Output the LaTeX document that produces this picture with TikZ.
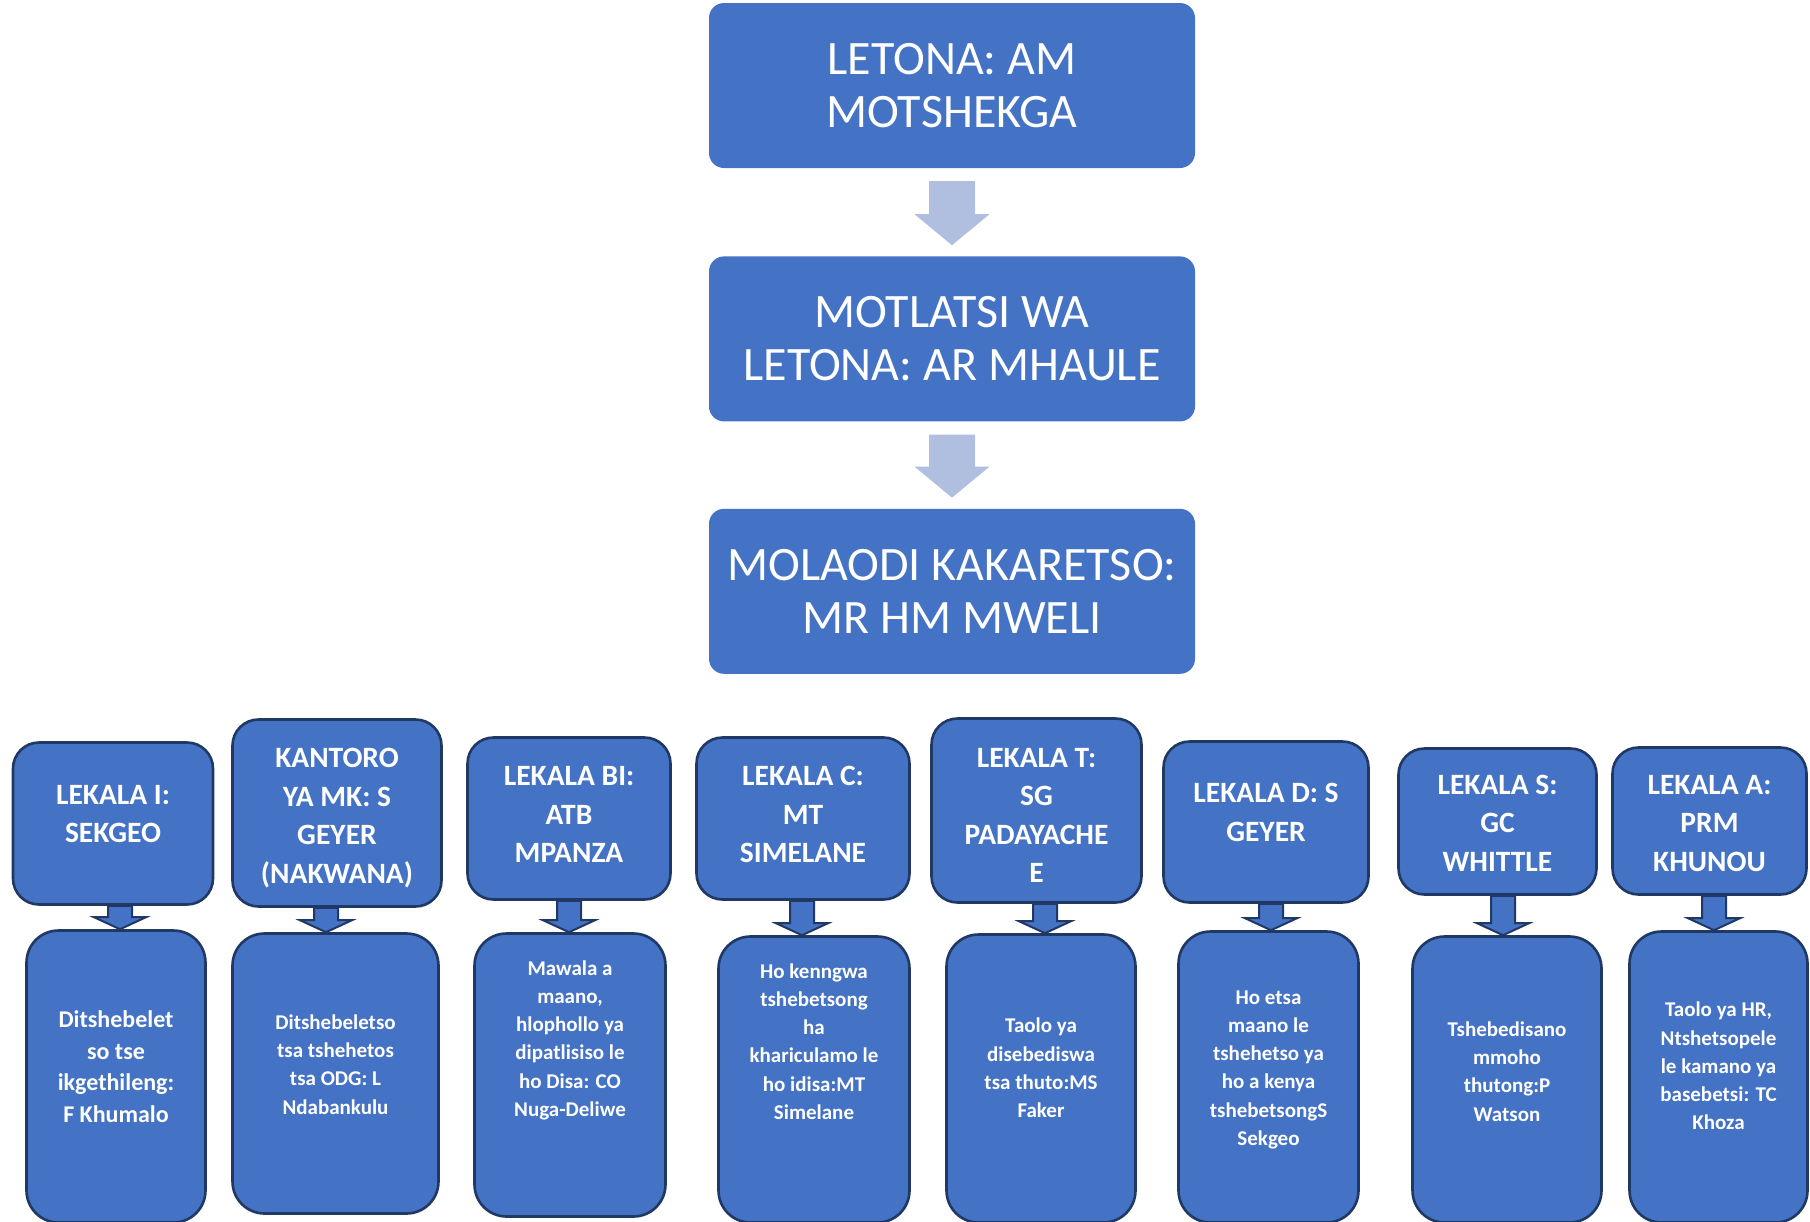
\documentclass[tikz,border=0pt]{standalone}
\usepackage{xcolor}
\usepackage{fontspec}
\setmainfont{Carlito}
\usepackage{tikz}
\usetikzlibrary{positioning, calc}

\definecolor{boxblue}{RGB}{68,114,196}
\definecolor{navy}{RGB}{32,56,100}
\definecolor{arrowgrey}{RGB}{176,190,224}

% text lifted by #1 above the middle of its box
\newcommand{\lifted}[2]{\raisebox{\dimexpr#1-.25em\relax}[0pt][0pt]{\begin{tabular}{@{}c@{}}#2\end{tabular}}}

\begin{document}
\begin{tikzpicture}[
    x=1pt, y=1pt,
    topbox/.style={
        rectangle,
        rounded corners=15pt,
        fill=boxblue,
        text=white,
        align=center,
        minimum width=486pt,
        minimum height=165pt,
        font=\fontsize{48}{53}\selectfont
    },
    headbox/.style={
        rectangle,
        rounded corners=26pt,
        draw=navy,
        line width=2.6pt,
        fill=boxblue,
        text=white,
        inner sep=0pt,
        font=\fontsize{29.5}{38.5}\selectfont\bfseries
    },
    bodybox/.style={
        rectangle,
        rounded corners=32pt,
        draw=navy,
        line width=2.6pt,
        fill=boxblue,
        text=white,
        inner sep=0pt,
        font=\fontsize{21}{28.2}\selectfont\bfseries
    },
    mainarrow/.style={
        draw=none,
        fill=arrowgrey,
        to path={let \p1=(\tikztostart.south), \p2=(\tikztotarget.north) in
            (\x1-23pt,\y1-13pt) -- (\x1+23pt,\y1-13pt) -- (\x1+23pt,\y2+42pt)
            -- (\x1+37.5pt,\y2+42pt) -- (\x1,\y2+11pt) -- (\x1-37.5pt,\y2+42pt)
            -- (\x1-23pt,\y2+42pt) -- cycle}
    },
    subarrow/.style={
        draw=navy,
        line width=2pt,
        fill=boxblue,
        to path={let \p1=($(\tikztostart.south)+(#1,0)$), \p2=(\tikztotarget.north) in
            (\x1-12pt,\y1) -- (\x1+12pt,\y1) -- (\x1+12pt,\y2+12pt)
            -- (\x1+26pt,\y2+12pt) -- (\x1,\y2) -- (\x1-26pt,\y2+12pt)
            -- (\x1-12pt,\y2+12pt) -- cycle}
    },
    subarrow/.default=0
]

\useasboundingbox (0,0) rectangle (1810,-1221);

\node[topbox] (lead) at (952,-85.5) {LETONA: AM\\MOTSHEKGA};

\node[topbox, below=88pt of lead] (deputy) {MOTLATSI WA\\LETONA: AR MHAULE};

\node[topbox, below=87pt of deputy] (dg) {MOLAODI KAKARETSO:\\MR HM MWELI};

\node[headbox, minimum width=200pt, minimum height=162pt] (hI) at (113,-823.5) {\lifted{9pt}{LEKALA I:\\SEKGEO}};
\node[headbox, minimum width=209pt, minimum height=187pt] (hMK) at (337,-813) {\lifted{-3.5pt}{KANTORO\\YA MK: S\\GEYER\\(NAKWANA)}};
\node[headbox, minimum width=203pt, minimum height=162pt] (hBI) at (569,-818.5) {\lifted{3pt}{LEKALA BI:\\ATB\\MPANZA}};
\node[headbox, minimum width=213pt, minimum height=162pt] (hC) at (803,-818.5) {\lifted{3pt}{LEKALA C:\\MT\\SIMELANE}};
\node[headbox, minimum width=210pt, minimum height=184pt] (hT) at (1036.5,-810.5) {\lifted{-5.5pt}{LEKALA T:\\SG\\PADAYACHE\\E}};
\node[headbox, minimum width=205pt, minimum height=161pt] (hD) at (1266,-822) {\lifted{9pt}{LEKALA D: S\\GEYER}};
\node[headbox, minimum width=198pt, minimum height=146pt] (hS) at (1497.5,-821.5) {\lifted{-2.5pt}{LEKALA S:\\GC\\WHITTLE}};
\node[headbox, minimum width=194pt, minimum height=147pt] (hA) at (1709.5,-821) {\lifted{-3pt}{LEKALA A:\\PRM\\KHUNOU}};

\node[bodybox, font=\fontsize{24}{31.5}\selectfont\bfseries, minimum width=179pt, minimum height=292pt] (bI) at (116,-1076.5) {\lifted{7.5pt}{Ditshebelet\\so tse\\ikgethileng:\\F Khumalo}};
\node[bodybox, minimum width=206pt, minimum height=280pt] (bMK) at (335.5,-1073.5) {\lifted{7.5pt}{Ditshebeletso\\tsa tshehetos\\tsa ODG: L\\Ndabankulu}};
\node[bodybox, minimum width=191pt, minimum height=283pt] (bBI) at (570,-1075) {\lifted{35pt}{Mawala a\\maano,\\hlophollo ya\\dipatlisiso le\\ho Disa: CO\\Nuga-Deliwe}};
\node[bodybox, minimum width=191pt, minimum height=286pt] (bC) at (814,-1079.5) {\lifted{36.5pt}{Ho kenngwa\\tshebetsong\\ha\\khariculamo le\\ho idisa:MT\\Simelane}};
\node[bodybox, minimum width=189pt, minimum height=288pt] (bT) at (1041,-1078.5) {\lifted{9pt}{Taolo ya\\disebediswa\\tsa thuto:MS\\Faker}};
\node[bodybox, minimum width=180pt, minimum height=291pt] (bD) at (1268.5,-1077) {\lifted{8pt}{Ho etsa\\maano le\\tshehetso ya\\ho a kenya\\tshebetsongS\\Sekgeo}};
\node[bodybox, minimum width=189pt, minimum height=286pt] (bS) at (1507,-1079.5) {\lifted{6.5pt}{Tshebedisano\\mmoho\\thutong:P\\Watson}};
\node[bodybox, minimum width=178pt, minimum height=291pt] (bA) at (1718.5,-1077) {\lifted{9.5pt}{Taolo ya HR,\\Ntshetsopele\\le kamano ya\\basebetsi: TC\\Khoza}};

\draw[mainarrow] (lead) to (deputy);
\draw[mainarrow] (deputy) to (dg);

\draw[subarrow=7] (hI) to (bI);
\draw[subarrow=-11] (hMK) to (bMK);
\draw[subarrow] (hBI) to (bBI);
\draw[subarrow=-1] (hC) to (bC);
\draw[subarrow=8.5] (hT) to (bT);
\draw[subarrow=5] (hD) to (bD);
\draw[subarrow=5.5] (hS) to (bS);
\draw[subarrow=4.5] (hA) to (bA);

\end{tikzpicture}
\end{document}
